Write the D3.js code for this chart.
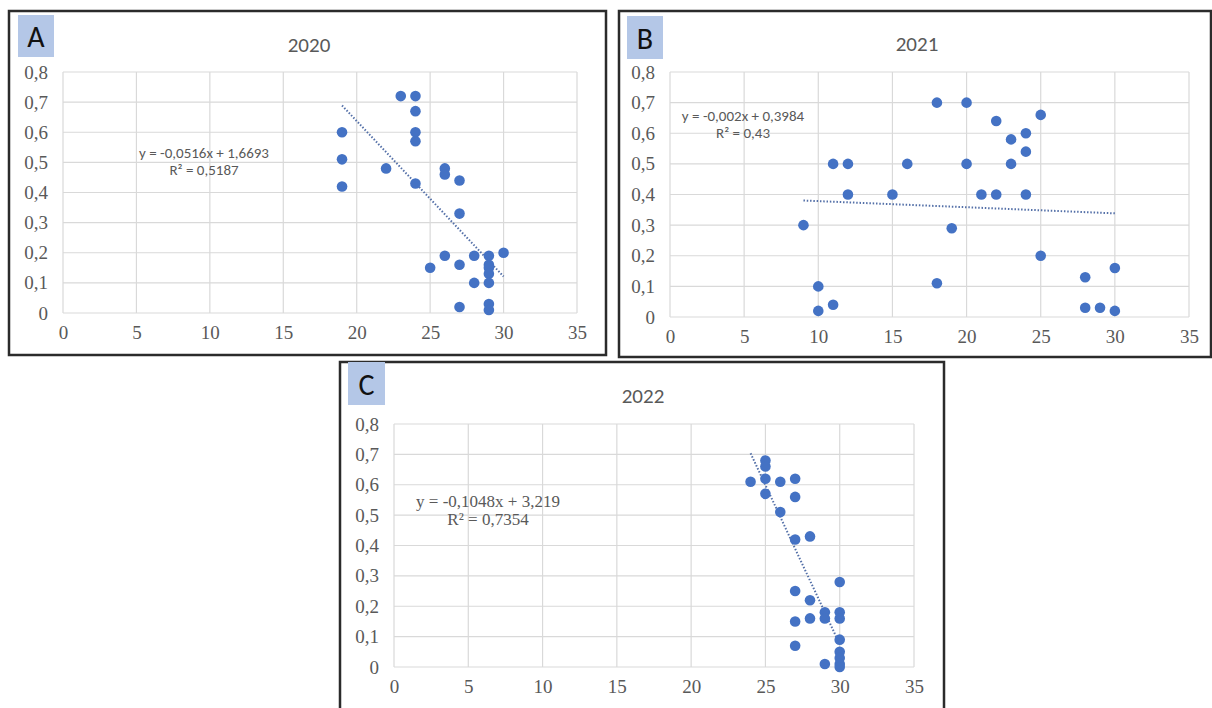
<!DOCTYPE html>
<html>
<head>
<meta charset="utf-8">
<script src="https://cdn.jsdelivr.net/npm/d3@7"></script>
<style>
html,body{margin:0;padding:0;background:#fff;}
svg{display:block;}
.tick text{font-family:"Liberation Serif","DejaVu Serif",serif !important;font-size:19px !important;fill:#595959;}
</style>
</head>
<body>
<svg id="chart" width="1212" height="708"></svg>
<script>
// ---- data ----
const xTicks = [0, 5, 10, 15, 20, 25, 30, 35];
const yTicks = [0, 0.1, 0.2, 0.3, 0.4, 0.5, 0.6, 0.7, 0.8];

const titleA = "2020";
const xA = [19, 19, 19, 22, 23, 24, 24, 24, 24, 24, 25, 26, 26, 26, 27, 27, 27, 27, 28, 28, 29, 29, 29, 29, 29, 29, 29, 30];
const yA = [0.60, 0.51, 0.42, 0.48, 0.72, 0.72, 0.67, 0.60, 0.57, 0.43, 0.15, 0.48, 0.46, 0.19, 0.44, 0.33, 0.16, 0.02, 0.19, 0.10, 0.19, 0.16, 0.15, 0.13, 0.10, 0.03, 0.01, 0.20];
const trendA = {slope: -0.0516, intercept: 1.6693, from: 19, to: 30};
const eqA = ["y = -0,0516x + 1,6693", "R² = 0,5187"];

const titleB = "2021";
const xB = [9, 10, 10, 11, 11, 12, 12, 15, 16, 18, 18, 19, 20, 20, 21, 22, 22, 23, 23, 24, 24, 24, 25, 25, 28, 28, 29, 30, 30];
const yB = [0.30, 0.10, 0.02, 0.50, 0.04, 0.50, 0.40, 0.40, 0.50, 0.70, 0.11, 0.29, 0.70, 0.50, 0.40, 0.64, 0.40, 0.58, 0.50, 0.60, 0.54, 0.40, 0.66, 0.20, 0.13, 0.03, 0.03, 0.16, 0.02];
const trendB = {slope: -0.002, intercept: 0.3984, from: 9, to: 30};
const eqB = ["y = -0,002x + 0,3984", "R² = 0,43"];

const titleC = "2022";
const xC = [24, 25, 25, 25, 25, 26, 26, 27, 27, 27, 27, 27, 27, 28, 28, 28, 29, 29, 29, 30, 30, 30, 30, 30, 30, 30, 30];
const yC = [0.61, 0.68, 0.66, 0.62, 0.57, 0.61, 0.51, 0.62, 0.56, 0.42, 0.25, 0.15, 0.07, 0.43, 0.22, 0.16, 0.18, 0.16, 0.01, 0.28, 0.18, 0.16, 0.09, 0.05, 0.03, 0.01, 0.00];
const trendC = {slope: -0.1048, intercept: 3.219, from: 24, to: 30};
const eqC = ["y = -0,1048x + 3,219", "R² = 0,7354"];

// ---- layout ----
const svg = d3.select("#chart");
const fmt = d => d === 0 ? "0" : String(d).replace(".", ",");
const serif = "'Liberation Serif','DejaVu Serif',serif";
const sans = "Carlito,'Open Sans','Liberation Sans',sans-serif";

const panels = [
  {letter: "A", title: titleA, xs: xA, ys: yA, trend: trendA, eq: eqA,
   box: [9, 11, 606, 355], lab: [18, 15, 36, 42], x0: 63, x1: 577, y0: 313, y1: 72,
   titleX: 309, titleY: 52, eqX: 204, eqY: 158, eqDy: 17, eqFont: sans, eqSize: 15},
  {letter: "B", title: titleB, xs: xB, ys: yB, trend: trendB, eq: eqB,
   box: [619, 11, 1211, 357], lab: [627, 16, 36, 43], x0: 670, x1: 1189, y0: 317, y1: 72,
   titleX: 917, titleY: 51, eqX: 743, eqY: 121, eqDy: 17, eqFont: sans, eqSize: 15},
  {letter: "C", title: titleC, xs: xC, ys: yC, trend: trendC, eq: eqC,
   box: [340, 362, 944, 712], lab: [348, 362, 37, 43], x0: 394, x1: 914, y0: 667, y1: 424,
   titleX: 643, titleY: 403, eqX: 488, eqY: 507, eqDy: 18, eqFont: serif, eqSize: 17}
];

panels.forEach(p => {
  const g = svg.append("g");
  g.append("rect")
    .attr("x", p.box[0]).attr("y", p.box[1])
    .attr("width", p.box[2] - p.box[0]).attr("height", p.box[3] - p.box[1])
    .attr("fill", "#fff").attr("stroke", "#2b2b2b").attr("stroke-width", 2.5);

  g.append("rect")
    .attr("x", p.lab[0]).attr("y", p.lab[1]).attr("width", p.lab[2]).attr("height", p.lab[3])
    .attr("fill", "#b4c7e7");
  g.append("text")
    .attr("x", p.lab[0] + p.lab[2] / 2).attr("y", p.lab[1] + p.lab[3] / 2 + 11)
    .attr("text-anchor", "middle")
    .style("font-family", sans).style("font-size", "30px").attr("fill", "#111")
    .text(p.letter);

  g.append("text")
    .attr("x", p.titleX).attr("y", p.titleY)
    .attr("text-anchor", "middle")
    .style("font-family", sans).style("font-size", "21px").attr("fill", "#595959")
    .text(p.title);

  const x = d3.scaleLinear().domain([0, 35]).range([p.x0, p.x1]);
  const y = d3.scaleLinear().domain([0, 0.8]).range([p.y0, p.y1]);

  g.append("g").selectAll("line").data(xTicks).join("line")
    .attr("x1", d => x(d)).attr("x2", d => x(d))
    .attr("y1", p.y0).attr("y2", p.y1)
    .attr("stroke", "#d9d9d9").attr("stroke-width", 1.2);
  g.append("g").selectAll("line").data(yTicks).join("line")
    .attr("y1", d => y(d)).attr("y2", d => y(d))
    .attr("x1", p.x0).attr("x2", p.x1)
    .attr("stroke", "#d9d9d9").attr("stroke-width", 1.2);

  const ax = g.append("g").attr("transform", `translate(0,${p.y0})`)
    .call(d3.axisBottom(x).tickValues(xTicks).tickFormat(fmt).tickSize(0).tickPadding(13));
  ax.select(".domain").remove();
  ax.attr("font-family", serif).attr("font-size", 19);

  const ay = g.append("g").attr("transform", `translate(${p.x0},0)`)
    .call(d3.axisLeft(y).tickValues(yTicks).tickFormat(fmt).tickSize(0).tickPadding(15));
  ay.select(".domain").remove();
  ay.attr("font-family", serif).attr("font-size", 19);

  const t = p.trend;
  g.append("line")
    .attr("x1", x(t.from)).attr("y1", y(t.slope * t.from + t.intercept))
    .attr("x2", x(t.to)).attr("y2", y(t.slope * t.to + t.intercept))
    .attr("stroke", "#5470a8").attr("stroke-width", 2)
    .attr("stroke-dasharray", "1.5,1.8");

  const pts = p.xs.map((v, i) => ({x: v, y: p.ys[i]}));
  g.append("g").selectAll("circle").data(pts).join("circle")
    .attr("cx", d => x(d.x)).attr("cy", d => y(d.y)).attr("r", 5.3)
    .attr("fill", "#4472c4");

  p.eq.forEach((s, i) => {
    g.append("text")
      .attr("x", p.eqX).attr("y", p.eqY + i * p.eqDy)
      .attr("text-anchor", "middle")
      .style("font-family", p.eqFont).style("font-size", p.eqSize + "px").attr("fill", "#595959")
      .text(s);
  });
});
</script>
</body>
</html>
